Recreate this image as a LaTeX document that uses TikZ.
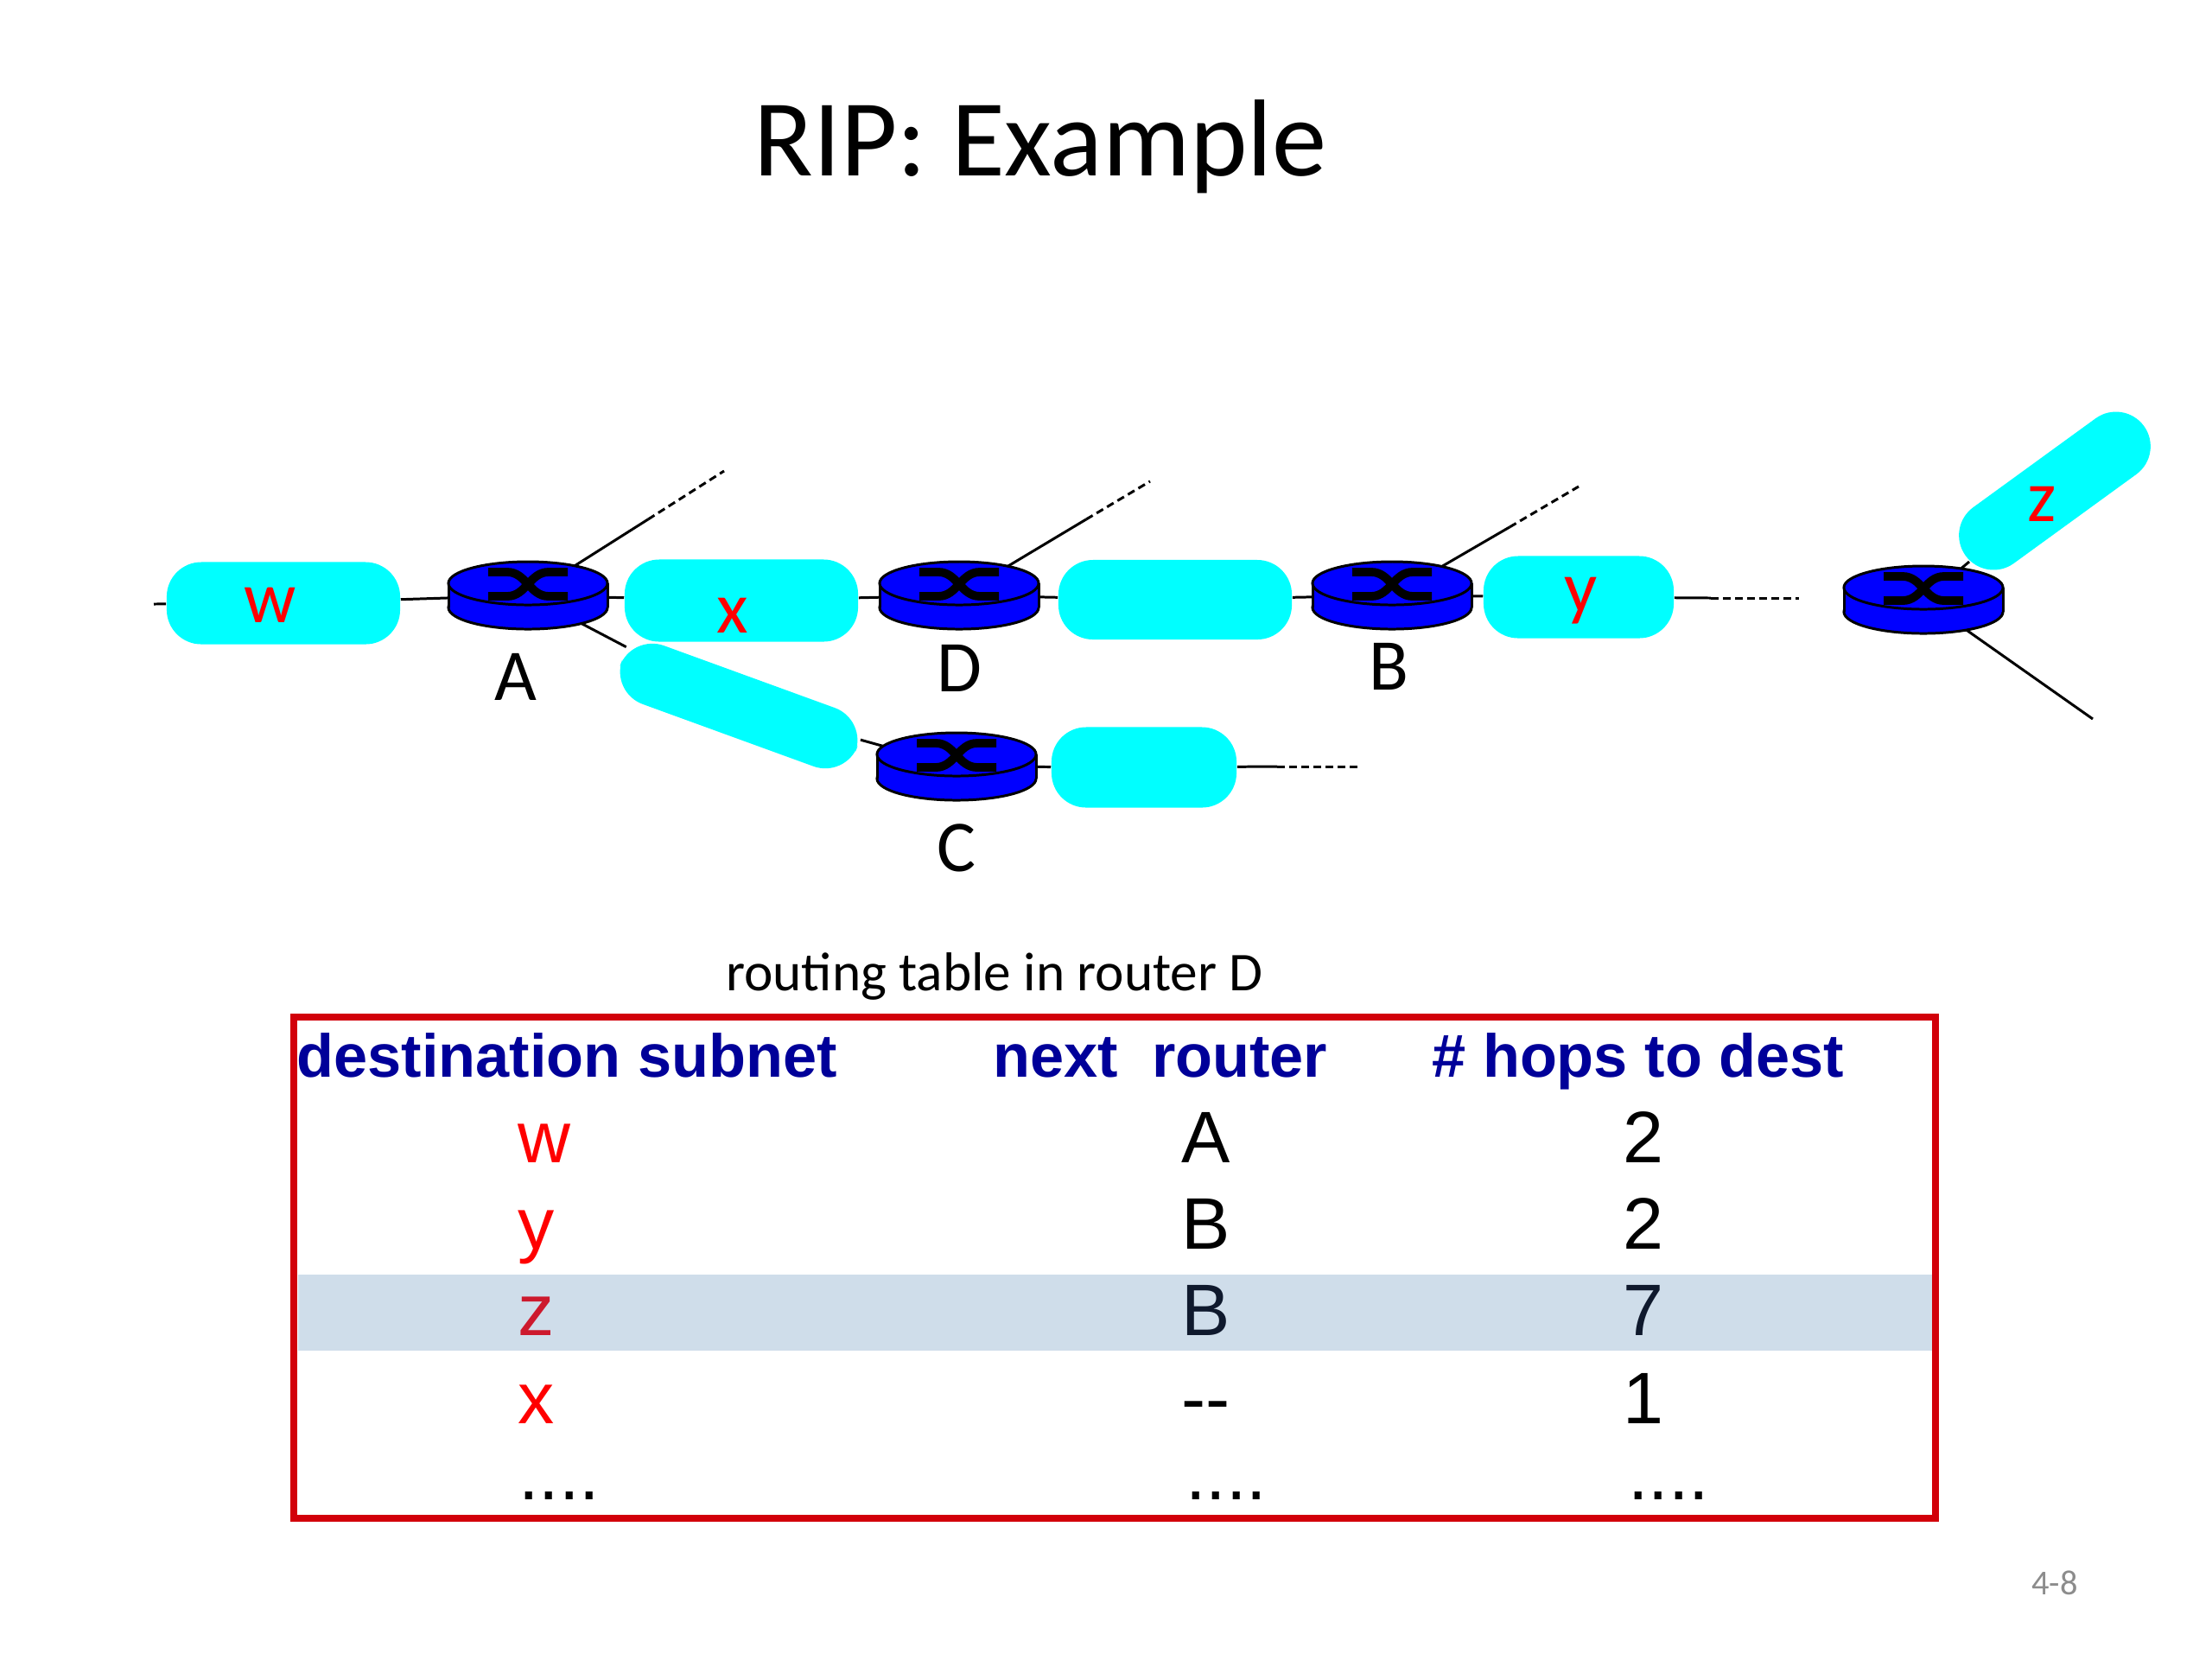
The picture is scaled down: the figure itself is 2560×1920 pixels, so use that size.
\documentclass[tikz,border=0pt]{standalone}
\usepackage{fontspec}
\setmainfont{Carlito}
\newfontfamily\arialfont{Liberation Sans}
\usepackage{tikz}

\definecolor{routerblue}{RGB}{0,0,255}
\definecolor{subnetcyan}{RGB}{0,255,255}
\definecolor{headblue}{RGB}{0,0,153}
\definecolor{boxred}{RGB}{210,0,10}
\definecolor{rowband}{RGB}{207,221,234}
\definecolor{bandred}{RGB}{205,25,45}
\definecolor{bandtext}{RGB}{15,25,45}
\definecolor{pagegray}{RGB}{140,140,140}

\pgfdeclarelayer{background}
\pgfsetlayers{background,main}

\tikzset{
  router/.pic={
    \filldraw[fill=routerblue, line width=0.85pt] (0,14) circle[x radius=0.92cm, y radius=0.25cm];
    \fill[routerblue] (-92,-14) rectangle (92,14);
    \draw[line width=0.85pt] (-92,-14) -- (-92,14) (92,-14) -- (92,14);
    \filldraw[fill=routerblue, line width=0.85pt] (0,-14) circle[x radius=0.92cm, y radius=0.25cm];
    \draw[line width=2.8pt] (-46,-27) -- (-24,-27) .. controls (-2,-27) and (2,1) .. (24,1) -- (46,1)
      (-46,1) -- (-24,1) .. controls (-2,1) and (2,-27) .. (24,-27) -- (46,-27);
  },
  subnet/.style={fill=subnetcyan, rounded corners=0.4cm, inner sep=0pt},
  subnetlabel/.style={anchor=base, text=red, font=\fontsize{24pt}{28pt}\selectfont},
  routerlabel/.style={anchor=base, font=\fontsize{24pt}{28pt}\selectfont},
  link/.style={line width=0.85pt},
  stubdash/.style={line width=0.85pt, dash pattern=on 2.5pt off 1.5pt},
  headcell/.style={anchor=base west, text=headblue, font=\arialfont\bfseries\fontsize{20pt}{24pt}\selectfont},
  cell/.style={anchor=base west, font=\arialfont\fontsize{24pt}{28pt}\selectfont}
}

\begin{document}
\begin{tikzpicture}[x=0.01cm, y=-0.01cm]
  \useasboundingbox (0,0) rectangle (2560,1920);

  \node[anchor=base, font=\fontsize{36pt}{43pt}\selectfont] (title) at (1204,203) {RIP: Example};

  % routers
  \coordinate (A) at (611,689);
  \coordinate (D) at (1110,689);
  \coordinate (B) at (1611,689);
  \coordinate (C) at (1107,887);
  \coordinate (Rz) at (2226,694);
  \pic at (A) {router};
  \pic at (D) {router};
  \pic at (B) {router};
  \pic at (C) {router};
  \pic at (Rz) {router};
  \node[routerlabel] (Al) at (597,810) {A};
  \node[routerlabel] (Dl) at (1110,800) {D};
  \node[routerlabel] (Bl) at (1607,798) {B};
  \node[routerlabel] (Cl) at (1107,1008) {C};

  % subnets
  \node[subnet, minimum width=2.7cm, minimum height=0.95cm] (w) at (328,698) {};
  \node[subnet, minimum width=2.7cm, minimum height=0.95cm] (x) at (858,695) {};
  \node[subnet, minimum width=2.7cm, minimum height=0.92cm] (netDB) at (1360,694) {};
  \node[subnet, minimum width=2.2cm, minimum height=0.95cm] (y) at (1827,691) {};
  \node[subnet, minimum width=2.9cm, minimum height=0.72cm, rotate=-20] (netAC) at (855,817) {};
  \node[subnet, minimum width=2.14cm, minimum height=0.93cm] (netC) at (1324,888) {};
  \node[subnet, minimum width=2.55cm, minimum height=0.8cm, rotate=36] (z) at (2378,568) {};
  \node[subnetlabel] (wl) at (313,720) {w};
  \node[subnetlabel] (xl) at (848,732) {x};
  \node[subnetlabel] (yl) at (1830,708) {y};
  \node[subnetlabel] (zl) at (2363,603) {z};

  \coordinate (wstub) at (178,699);
  \coordinate (ydash) at (1980,692);
  \coordinate (yend) at (2082,692);
  \coordinate (cdash) at (1478,887);
  \coordinate (cend) at (1576,887);
  \coordinate (Aup) at (750,601);
  \coordinate (Aend) at (838,545);
  \coordinate (Dup) at (1257,601);
  \coordinate (Dend) at (1331,557);
  \coordinate (Bup) at (1747,610);
  \coordinate (Bend) at (1827,563);
  \coordinate (Rlow) at (2422,832);

  \begin{pgfonlayer}{background}
    \draw[link] (wstub) -- (w) -- (A) -- (x) -- (D) -- (netDB) -- (B) -- (y) -- (ydash);
    \draw[stubdash] (ydash) -- (yend);
    \draw[link] (A) -- (netAC) -- (C) -- (netC) -- (cdash);
    \draw[stubdash] (cdash) -- (cend);
    \draw[link] (A) -- (Aup) (D) -- (Dup) (B) -- (Bup);
    \draw[stubdash] (Aup) -- (Aend) (Dup) -- (Dend) (Bup) -- (Bend);
    \draw[link] (z) -- (Rz) -- (Rlow);
  \end{pgfonlayer}

  % routing table
  \node[anchor=base, font=\fontsize{18pt}{22pt}\selectfont] (caption) at (1151,1146) {routing table in router D};
  \fill[rowband] (345,1475) rectangle (2236,1563);
  \draw[boxred, line width=2.3pt] (340,1177) rectangle (2240,1757);
  \node[headcell] (hdst) at (331,1246) {destination subnet};
  \node[headcell] (hnxt) at (1137,1246) {next\ \ router};
  \node[headcell] (hhop) at (1645,1246) {\# hops to dest};

  \node[cell, text=red] (dstw) at (587,1345) {w};
  \node[cell] (nxtw) at (1355,1345) {A};
  \node[cell] (hopw) at (1866,1345) {2};
  \node[cell, text=red] (dsty) at (587,1445) {y};
  \node[cell] (nxty) at (1355,1445) {B};
  \node[cell] (hopy) at (1866,1445) {2};
  \node[cell, text=bandred] (dstz) at (587,1545) {z};
  \node[cell, text=bandtext] (nxtz) at (1355,1545) {B};
  \node[cell, text=bandtext] (hopz) at (1866,1545) {7};
  \node[cell, text=red] (dstx) at (587,1647) {x};
  \node[cell] (nxtx) at (1355,1647) {-{}-};
  \node[cell] (hopx) at (1866,1647) {1};
  \node[cell] (dstmore) at (588,1735) {....};
  \node[cell] (nxtmore) at (1360,1735) {....};
  \node[cell] (hopmore) at (1872,1735) {....};

  \node[anchor=base, text=pagegray, font=\fontsize{11.5pt}{14pt}\selectfont] (page) at (2378,1845) {4-8};
\end{tikzpicture}
\end{document}
